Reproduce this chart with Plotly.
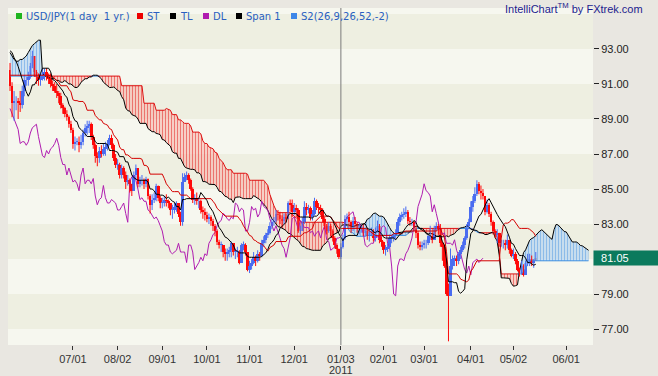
import numpy as np
import pandas as pd
import plotly.graph_objects as go

# ---------------- data ----------------
START_DATE = "2010-05-19"
FIRST_OPEN = 91.8

close = [
    90.9, 89.9, 90.0, 90.0, 89.9, 89.8, 90.6, 91.2, 91.2,
    91.4, 92.0, 92.6, 91.7, 91.4, 91.2, 91.3, 91.6, 91.7, 91.5, 91.3, 91.0, 90.9, 90.6, 90.5, 90.3, 89.8, 89.6, 89.3, 89.1, 88.7, 88.4,
    87.6, 87.7, 87.7, 87.5, 87.7, 88.2, 88.5, 88.6, 88.7, 88.0, 87.5, 86.9, 86.8, 87.2, 87.0, 87.3, 87.4, 87.6, 87.9, 87.5, 86.8, 86.4,
    86.4, 85.8, 86.2, 85.8, 85.4, 85.5, 85.3, 84.9, 85.8, 86.2, 85.3, 85.5, 85.5, 85.3, 85.6, 84.6, 84.1, 84.4, 84.5, 85.2, 84.5, 84.2,
    84.2, 84.4, 84.3, 84.2, 83.8, 83.8, 84.0, 84.2, 83.6, 83.1, 85.4, 85.7, 85.8, 85.5, 85.0, 84.4, 84.5, 84.3, 84.3, 83.8, 83.7, 83.5,
    83.3, 83.4, 83.2, 82.9, 82.6, 82.0, 81.8, 81.8, 81.4, 81.3, 81.4, 81.5, 81.9, 81.4, 81.4, 81.4, 80.8, 81.8, 81.8, 81.4, 80.4,
    80.6, 80.8, 81.1, 80.9, 81.3, 81.2, 81.9, 82.1, 82.4, 82.5, 82.9, 83.1, 83.2, 83.6, 83.5, 83.3, 83.2, 83.4, 83.3, 84.2, 84.1, 83.7,
    83.9, 83.8, 82.6, 82.6, 83.1, 84.0, 83.8, 83.9, 83.4, 83.6, 84.3, 84.0, 83.9, 83.8, 83.3, 82.9, 82.6, 82.9, 82.6, 82.2, 81.8, 81.6, 81.1,
    81.7, 82.2, 83.3, 83.4, 83.1, 82.7, 83.2, 83.0, 82.8, 82.8, 82.8, 82.5, 82.6, 82.3, 82.5, 82.6, 82.2, 82.6, 82.9, 82.1, 82.0,
    81.5, 81.6, 81.7, 82.2, 82.2, 82.3, 82.5, 83.1, 83.4, 83.5, 83.6, 83.7, 83.2, 83.1, 83.1, 82.8, 82.5, 81.8, 81.7, 81.8,
    81.9, 81.9, 82.3, 82.3, 82.1, 82.8, 82.9, 82.8, 81.9, 81.7, 80.6, 79.0, 78.9, 80.6, 81.0, 81.0, 80.9, 81.3, 81.5, 81.8, 82.2, 82.9, 83.1,
    84.0, 84.3, 84.7, 85.3, 84.9, 84.8, 84.6, 83.7, 84.1, 83.6, 83.1, 82.6, 82.4, 82.5, 81.9, 81.9, 81.9, 81.8, 82.1, 81.5, 81.2,
    81.3, 80.9, 80.4, 80.2, 80.6, 80.1, 80.8, 80.9, 81.0, 80.8, 80.9, 81.05,
]
high = [
    92.2, 91.1, 90.6, 90.3, 90.2, 90.6, 90.9, 91.5, 91.4,
    91.7, 92.2, 92.9, 92.6, 91.8, 91.6, 91.6, 91.9, 91.9, 91.9, 91.6, 91.6, 91.2, 91.1, 91.0, 90.6, 90.5, 89.9, 89.7, 89.5, 89.2, 88.9,
    88.5, 88.0, 87.9, 88.0, 88.1, 88.4, 88.7, 88.9, 88.9, 88.8, 88.1, 87.6, 87.1, 87.4, 87.5, 87.6, 87.7, 87.8, 88.1, 88.1, 87.6, 87.0,
    86.7, 86.5, 86.4, 86.3, 86.0, 85.8, 85.6, 85.3, 86.0, 86.4, 86.2, 85.7, 85.8, 85.6, 85.7, 85.6, 84.7, 84.7, 84.8, 85.3, 85.2, 84.6,
    84.5, 84.6, 84.7, 84.4, 84.2, 84.1, 84.2, 84.3, 84.2, 83.7, 85.9, 85.9, 86.0, 85.9, 85.6, 85.1, 84.7, 84.8, 84.5, 84.4, 84.0, 83.9,
    83.7, 83.6, 83.5, 83.3, 83.0, 82.7, 82.1, 82.0, 81.8, 81.6, 81.6, 81.7, 82.0, 81.9, 81.6, 81.7, 81.5, 81.9, 82.0, 81.9, 81.4,
    80.9, 81.0, 81.4, 81.2, 81.5, 81.4, 82.1, 82.3, 82.5, 82.7, 83.1, 83.3, 83.4, 83.8, 83.8, 83.7, 83.5, 83.6, 83.6, 84.3, 84.4, 84.4,
    84.2, 84.1, 83.9, 82.9, 83.4, 84.3, 84.2, 84.1, 84.0, 83.8, 84.5, 84.4, 84.2, 84.1, 83.9, 83.4, 83.0, 83.1, 83.0, 82.7, 82.3, 81.9, 81.6,
    81.9, 82.4, 83.5, 83.6, 83.7, 83.2, 83.4, 83.4, 83.1, 83.0, 82.9, 83.0, 82.8, 82.8, 82.7, 82.8, 82.7, 82.8, 83.2, 83.0, 82.3,
    82.0, 81.8, 81.9, 82.4, 82.4, 82.5, 82.7, 83.3, 83.6, 83.7, 83.9, 84.0, 83.8, 83.4, 83.3, 83.2, 82.9, 82.6, 82.0, 82.0,
    82.1, 82.1, 82.4, 82.9, 82.5, 82.9, 83.1, 83.0, 83.0, 82.0, 81.8, 80.9, 79.6, 81.6, 81.2, 81.2, 81.2, 81.4, 81.7, 82.0, 82.3, 83.0, 83.3,
    84.3, 84.6, 85.1, 85.5, 85.4, 85.2, 85.0, 84.6, 84.4, 84.2, 83.7, 83.2, 82.7, 82.7, 82.5, 82.1, 82.1, 82.1, 82.4, 82.1, 81.6,
    81.6, 81.4, 81.0, 80.5, 80.9, 80.7, 80.9, 81.3, 81.3, 81.2, 81.0, 81.4,
]
low = [
    90.6, 89.1, 88.9, 89.5, 89.0, 89.4, 89.6, 90.3, 90.9,
    90.9, 91.3, 91.9, 91.4, 91.0, 90.9, 90.9, 91.2, 91.2, 91.2, 91.0, 90.8, 90.6, 90.5, 90.2, 89.9, 89.6, 89.3, 89.1, 88.9, 88.5, 88.2,
    87.3, 87.2, 87.5, 87.1, 87.3, 87.5, 88.0, 88.1, 88.2, 87.8, 87.3, 86.5, 86.3, 86.5, 86.8, 86.9, 86.9, 87.2, 87.5, 87.3, 86.6, 86.2,
    86.1, 85.6, 85.6, 85.6, 85.0, 85.2, 84.8, 84.6, 84.9, 85.6, 85.1, 85.1, 85.2, 85.0, 85.1, 84.4, 83.6, 83.8, 84.2, 84.3, 84.3, 83.9,
    83.9, 84.0, 84.0, 83.9, 83.5, 83.3, 83.6, 83.7, 83.4, 82.9, 82.9, 85.4, 85.5, 85.3, 84.9, 84.2, 84.1, 84.1, 83.9, 83.6, 83.3, 83.2,
    83.1, 83.0, 82.9, 82.6, 82.3, 81.8, 81.6, 81.4, 81.1, 80.9, 80.9, 81.1, 81.1, 81.2, 81.0, 81.1, 80.7, 80.8, 81.5, 81.2, 80.3,
    80.2, 80.4, 80.7, 80.6, 80.8, 80.9, 81.1, 81.7, 81.9, 82.2, 82.4, 82.7, 82.9, 83.1, 83.2, 83.0, 82.8, 83.0, 83.1, 83.3, 83.7, 83.4,
    83.5, 83.4, 82.5, 82.4, 82.6, 83.0, 83.5, 83.6, 83.2, 83.2, 83.5, 83.8, 83.6, 83.5, 83.1, 82.7, 82.4, 82.5, 82.3, 82.0, 81.6, 81.3, 81.0,
    81.0, 81.6, 82.1, 83.0, 82.8, 82.5, 82.6, 82.8, 82.5, 82.4, 82.5, 82.3, 82.3, 82.1, 82.0, 82.3, 82.0, 82.0, 82.5, 81.9, 81.7,
    81.3, 81.2, 81.4, 81.6, 81.9, 82.0, 82.1, 82.4, 82.9, 83.2, 83.3, 83.4, 83.0, 82.9, 82.9, 82.6, 82.2, 81.6, 81.5, 81.5,
    81.6, 81.6, 81.8, 82.1, 81.9, 82.1, 82.6, 82.4, 81.7, 80.9, 80.5, 78.9, 76.3, 78.9, 80.4, 80.6, 80.6, 80.7, 81.0, 81.4, 81.6, 82.1, 82.7,
    83.1, 83.7, 84.2, 84.6, 84.7, 84.4, 84.4, 83.5, 83.6, 83.4, 82.9, 82.4, 82.2, 81.9, 81.7, 81.7, 81.6, 81.5, 81.6, 81.3, 81.1,
    81.0, 80.7, 80.3, 80.0, 80.1, 80.0, 80.1, 80.6, 80.6, 80.6, 80.5, 80.9,
]

# indicator values at the very start of the chart (history before the window)
tl_head = [92.9, 92.8, 92.5, 92.3, 92.0, 91.6, 91.2, 90.8]
st_head = [91.5, 91.5, 91.5, 91.5, 91.5, 91.5, 91.5, 91.5, 91.5, 91.5,
           91.5, 91.5, 91.5, 91.5, 91.5, 91.5, 91.5, 91.5, 91.5, 91.5,
           91.5, 91.4, 91.3, 91.2, 91.1]
span1_head = [92.8, 92.6, 92.4, 92.3, 92.3, 92.4, 92.4, 92.5, 92.6, 92.8,
              93.0, 93.2, 93.3, 93.4, 93.5, 93.5, 91.6, 91.5, 91.4, 91.4,
              91.3, 91.3, 91.3, 91.2, 91.2, 91.1, 91.1, 91.2, 91.1, 91.0,
              91.0, 90.9, 90.8, 90.8, 90.9, 91.1, 91.2, 91.3, 91.3, 91.4,
              91.4, 91.5, 91.5, 91.5, 91.4, 91.3, 91.1, 91.0, 90.9, 90.8, 90.8]
span2_head = [91.45, 91.45, 91.45, 91.45, 91.45, 91.45, 91.45, 91.45, 91.45, 91.45,
              91.45, 91.45, 91.45, 91.45, 91.45, 91.45, 91.45, 91.45, 91.45, 91.45,
              91.45, 91.45, 91.45, 91.45, 91.45, 91.45, 91.45, 91.45, 91.45, 91.45,
              91.45, 91.45, 91.45, 91.45, 91.45, 91.45, 91.45, 91.45, 91.45, 91.45,
              91.45, 91.45, 91.45, 91.45, 91.45, 91.45, 91.45, 91.45, 91.45, 91.45,
              91.45, 91.45, 91.45, 91.45, 91.45, 90.9, 90.9, 90.9, 90.9, 90.9,
              90.9, 90.9, 90.9, 90.9, 90.9, 90.9, 89.9, 89.9, 89.9, 89.9,
              89.9, 89.9, 89.5, 89.5, 89.5, 89.5, 89.5]

tick_labels = ["07/01", "08/02", "09/01", "10/01", "11/01", "12/01",
               "01/03", "02/01", "03/01", "04/01", "05/02", "06/01"]
tick_index = [31, 53, 75, 97, 118, 140, 163, 184, 204, 227, 248, 274]
year_label = "2011"
year_index = 163
y_ticks = [77, 79, 83, 85, 87, 89, 91, 93]
last_price = 81.05

# ---------------- indicators ----------------
n = len(close)
dates = pd.bdate_range(START_DATE, periods=n)
c = pd.Series(close, dtype=float)
h = pd.Series(high, dtype=float)
l = pd.Series(low, dtype=float)
o = c.shift(1)
o.iloc[0] = FIRST_OPEN
xi = np.arange(n)

tl = (h.rolling(9).max() + l.rolling(9).min()) / 2
tl.iloc[:len(tl_head)] = tl_head
st = (h.rolling(26).max() + l.rolling(26).min()) / 2
st.iloc[:len(st_head)] = st_head
s2raw = (h.rolling(52).max() + l.rolling(52).min()) / 2

N = n + 26
xs = np.arange(N)
span1 = np.full(N, np.nan)
span1[26:] = ((tl + st) / 2).values
span1[:len(span1_head)] = span1_head
span2 = np.full(N, np.nan)
span2[26:] = s2raw.values
span2[:len(span2_head)] = span2_head

lo_s = np.minimum(span1, span2)
hi_s = np.maximum(span1, span2)

red_mask = span2 >= span1
red_ext = red_mask | np.roll(red_mask, 1) | np.roll(red_mask, -1)
blue_ext = (~red_mask) | np.roll(~red_mask, 1) | np.roll(~red_mask, -1)
s2_red = np.where(red_ext, span2, np.nan)
s2_blue = np.where(blue_ext, span2, np.nan)

dl_x = xi[:-26]
dl_y = c.values[26:]

# candle pieces
UP, DOWN, LAST = "#4a6cf0", "#ff0a0a", "#e8a040"
ov, cv, hv, lv = o.values, c.values, h.values, l.values
up = cv >= ov
body_base = np.minimum(ov, cv)
body_len = np.maximum(np.abs(cv - ov), 0.04)
body_col = np.where(up, UP, DOWN).astype(object)
body_col[-1] = LAST


def wick_xy(mask):
    wx, wy = [], []
    for i in np.where(mask)[0]:
        wx += [i, i, None]
        wy += [lv[i], hv[i], None]
    return wx, wy


wux, wuy = wick_xy(up)
wdx, wdy = wick_xy(~up)

# ---------------- figure ----------------
W, H = 658, 376
L, R, T, B = 8, 593, 8, 345


def fx(px):
    return (px - L) / (R - L)


def fy(py):
    return (B - py) / (B - T)


fig = go.Figure()
nohover = dict(hoverinfo="skip", showlegend=False)

# red cloud
fig.add_trace(go.Scatter(x=xs, y=span2, mode="lines", line=dict(width=0), **nohover))
fig.add_trace(go.Scatter(x=xs, y=lo_s, mode="lines", line=dict(width=0), fill="tonexty",
                         fillpattern=dict(shape="|", fgcolor="#e00000",
                                          bgcolor="rgba(255,228,218,0.5)", size=3, solidity=0.5),
                         **nohover))
# blue cloud
fig.add_trace(go.Scatter(x=xs, y=span2, mode="lines", line=dict(width=0), **nohover))
fig.add_trace(go.Scatter(x=xs, y=hi_s, mode="lines", line=dict(width=0), fill="tonexty",
                         fillpattern=dict(shape="|", fgcolor="#3d8ee0",
                                          bgcolor="rgba(205,228,250,0.6)", size=3, solidity=0.5),
                         **nohover))
fig.add_trace(go.Scatter(x=xs, y=s2_red, mode="lines", line=dict(color="#dd1010", width=1), **nohover))
fig.add_trace(go.Scatter(x=xs, y=s2_blue, mode="lines", line=dict(color="#3d8ee0", width=1), **nohover))
fig.add_trace(go.Scatter(x=xs, y=span1, mode="lines", line=dict(color="#000000", width=1), **nohover))
# delayed line
fig.add_trace(go.Scatter(x=dl_x, y=dl_y, mode="lines", line=dict(color="#b01cb0", width=1), **nohover))
# candles: wicks + bodies
fig.add_trace(go.Scatter(x=wux, y=wuy, mode="lines", line=dict(color=UP, width=1), **nohover))
fig.add_trace(go.Scatter(x=wdx, y=wdy, mode="lines", line=dict(color=DOWN, width=1), **nohover))
fig.add_trace(go.Bar(x=xi, y=body_len, base=body_base, width=1.35,
                     marker=dict(color=list(body_col), line=dict(width=0)), **nohover))
# standard line and turning line
fig.add_trace(go.Scatter(x=xi, y=st, mode="lines", line=dict(color="#d40000", width=1), **nohover))
fig.add_trace(go.Scatter(x=xi, y=tl, mode="lines", line=dict(color="#000000", width=1), **nohover))

shapes = []
# background bands
for lo_b, hi_b in [(77, 79), (81, 83), (85, 87), (89, 91), (93, 95)]:
    shapes.append(dict(type="rect", xref="paper", yref="y", x0=0, x1=1, y0=lo_b, y1=hi_b,
                       fillcolor="#eeefe1", line=dict(width=0), layer="below"))
# year separator
shapes.append(dict(type="line", xref="x", yref="paper", x0=year_index, x1=year_index,
                   y0=0, y1=1, line=dict(color="#7a7a7a", width=1)))

annotations = []
legend_items = [
    (16, "#1fb51f", "USD/JPY(1 day&nbsp; 1 yr.)"),
    (137, "#ee0000", "ST"),
    (170, "#000000", "TL"),
    (203, "#b01cb0", "DL"),
    (236, "#000000", "Span 1"),
    (291, "#3d86e8", "S2(26,9,26,52,-2)"),
]
for px, col, txt in legend_items:
    shapes.append(dict(type="rect", xref="paper", yref="paper",
                       x0=fx(px), x1=fx(px + 6), y0=fy(19), y1=fy(13),
                       fillcolor=col, line=dict(width=0)))
    annotations.append(dict(xref="paper", yref="paper", x=fx(px + 8), y=fy(16),
                            xanchor="left", yanchor="middle", showarrow=False, text=txt,
                            font=dict(family="DejaVu Sans", size=10, color="#2a5fc0")))

annotations.append(dict(xref="paper", yref="paper", x=fx(503), y=fy(8),
                        xanchor="left", yanchor="middle", showarrow=False,
                        text="IntelliChart<sup>TM</sup> by FXtrek.com",
                        font=dict(family="Arial", size=11, color="#1c1c8e")))
annotations.append(dict(xref="paper", yref="y", x=1, y=last_price, xanchor="left",
                        yanchor="middle", showarrow=False,
                        text="&nbsp;&nbsp;%.2f" % last_price, align="left",
                        width=63, height=12, borderpad=1, bgcolor="#0b7a5d",
                        font=dict(family="Arial", size=11, color="#ffffff")))
annotations.append(dict(xref="x", yref="paper", x=year_index, y=0, yshift=-25,
                        xanchor="center", yanchor="middle", showarrow=False, text=year_label,
                        font=dict(family="Arial", size=11, color="#333333")))

fig.update_layout(
    width=W, height=H,
    margin=dict(l=L, r=W - R, t=T, b=H - B),
    paper_bgcolor="#e9e7e1",
    plot_bgcolor="#f6f7ef",
    showlegend=False,
    bargap=0,
    shapes=shapes,
    annotations=annotations,
    xaxis=dict(range=[-1.0, 287.2], tickvals=tick_index, ticktext=tick_labels,
               ticks="outside", ticklen=4, tickcolor="#333333", showgrid=False,
               zeroline=False, showline=False,
               tickfont=dict(family="Arial", size=11, color="#333333")),
    yaxis=dict(range=[76.09, 95.34], side="right", tickvals=y_ticks,
               ticktext=["%.2f" % v for v in y_ticks], ticks="outside", ticklen=5,
               tickcolor="#222222", showgrid=False, zeroline=False, showline=False,
               tickfont=dict(family="Arial", size=11, color="#222222")),
)

fig.write_html("out.html",
               config={"displayModeBar": False, "staticPlot": True},
               post_script="document.body.style.margin='0';"
                           "document.documentElement.style.overflow='hidden';")
